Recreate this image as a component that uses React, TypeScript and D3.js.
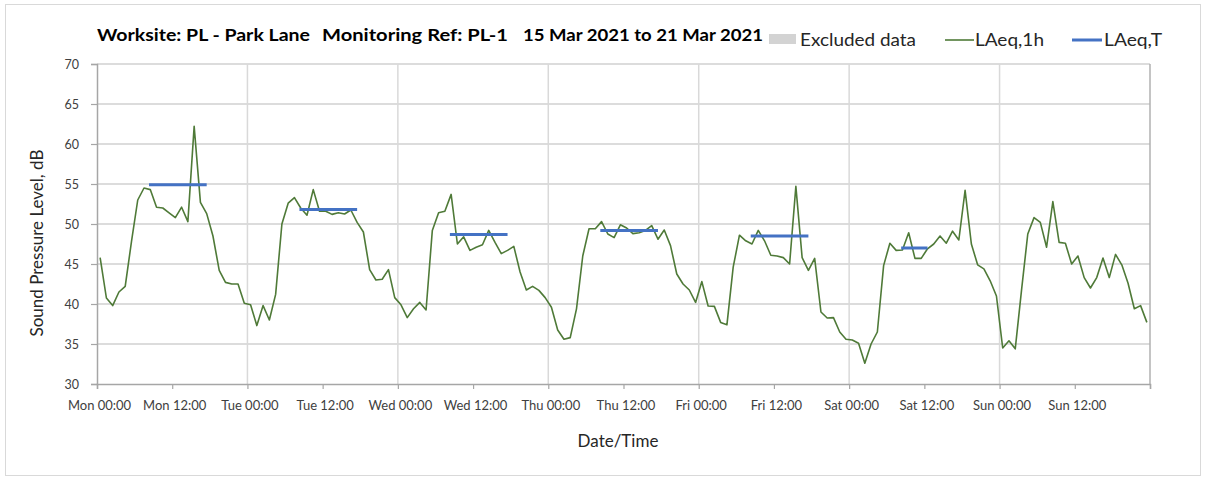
import React, { useEffect, useRef } from "react";
import * as d3 from "d3";

// hourly LAeq,1h values, Mon 00:00 .. Sun 23:00
const laeq1h: number[] = [
  // Mon
  45.8, 40.75, 39.8, 41.5, 42.2, 47.8, 53.0, 54.5, 54.3, 52.1, 52.0, 51.4,
  50.8, 52.1, 50.3, 62.2, 52.7, 51.3, 48.5, 44.2, 42.7, 42.5, 42.5, 40.1,
  // Tue
  39.9, 37.3, 39.8, 38.0, 41.2, 50.0, 52.6, 53.3, 52.0, 51.1, 54.3, 51.6,
  51.6, 51.2, 51.4, 51.25, 51.75, 50.2, 49.0, 44.3, 43.0, 43.1, 44.3, 40.8,
  // Wed
  39.9, 38.3, 39.4, 40.2, 39.25, 49.2, 51.4, 51.6, 53.7, 47.5, 48.4, 46.7,
  47.1, 47.4, 49.2, 47.7, 46.3, 46.7, 47.2, 44.0, 41.75, 42.2, 41.7, 40.8,
  // Thu
  39.6, 36.75, 35.6, 35.8, 39.4, 46.0, 49.4, 49.4, 50.3, 48.75, 48.3, 49.9,
  49.5, 48.8, 48.9, 49.2, 49.8, 48.1, 49.25, 47.3, 43.75, 42.5, 41.75, 40.2,
  // Fri
  42.8, 39.75, 39.7, 37.7, 37.4, 44.6, 48.6, 47.9, 47.5, 49.2, 47.9, 46.1,
  46.0, 45.8, 45.0, 54.7, 45.8, 44.2, 45.7, 39.0, 38.25, 38.3, 36.5, 35.6,
  // Sat
  35.5, 35.1, 32.6, 35.0, 36.5, 44.8, 47.6, 46.7, 46.75, 48.9, 45.7, 45.7,
  46.9, 47.5, 48.5, 47.6, 49.1, 48.0, 54.2, 47.5, 44.9, 44.4, 42.9, 41.0,
  // Sun
  34.5, 35.4, 34.4, 41.7, 48.75, 50.8, 50.2, 47.1, 52.8, 47.7, 47.6, 45.0,
  46.0, 43.3, 42.0, 43.3, 45.75, 43.3, 46.2, 44.9, 42.6, 39.4, 39.8, 37.7,
];

// LAeq,T periods (hour index of first / last sample)
const periodStart = [8, 32, 56, 80, 104, 128];
const periodEnd = [17, 41, 65, 89, 113, 132];
const periodValue = [54.9, 51.8, 48.7, 49.2, 48.5, 47.0];

const dayNames = ["Mon", "Tue", "Wed", "Thu", "Fri", "Sat", "Sun"];
const yTicks = [30, 35, 40, 45, 50, 55, 60, 65, 70];

const W = 1208;
const H = 477;
const FONT = "Lato, 'Open Sans', sans-serif";

const App = () => {
  const svgRef = useRef<SVGSVGElement | null>(null);

  useEffect(() => {
    const svg = d3.select(svgRef.current);
    svg.selectAll("*").remove();

    const left = 97;
    const right = 1150;
    const top = 64;
    const bottom = 384;

    const x = d3.scaleLinear().domain([0, 168]).range([left, right]);
    const y = d3.scaleLinear().domain([30, 70]).range([bottom, top]);

    // outer frame
    svg
      .append("rect")
      .attr("x", 5.5)
      .attr("y", 4.5)
      .attr("width", 1195)
      .attr("height", 471)
      .attr("fill", "#fff")
      .attr("stroke", "#d9d9d9");

    // horizontal grid
    svg
      .append("g")
      .selectAll("line")
      .data(yTicks.slice(1))
      .enter()
      .append("line")
      .attr("x1", left)
      .attr("x2", right)
      .attr("y1", (d) => y(d))
      .attr("y2", (d) => y(d))
      .attr("stroke", "#d0d0d0")
      .attr("stroke-width", 1.5);

    // vertical grid at midnight
    const dayHours = d3.range(1, 7).map((d) => d * 24);
    svg
      .append("g")
      .selectAll("line")
      .data(dayHours)
      .enter()
      .append("line")
      .attr("x1", (d) => x(d))
      .attr("x2", (d) => x(d))
      .attr("y1", top)
      .attr("y2", bottom)
      .attr("stroke", "#d9d9d9")
      .attr("stroke-width", 1.5);

    // plot area right edge
    svg
      .append("line")
      .attr("x1", right)
      .attr("x2", right)
      .attr("y1", top)
      .attr("y2", bottom)
      .attr("stroke", "#b0b0b0")
      .attr("stroke-width", 1.5);

    // y axis
    const yAxis = svg
      .append("g")
      .attr("transform", `translate(${left},0)`)
      .call(d3.axisLeft(y).tickValues(yTicks).tickSize(6).tickPadding(12));
    yAxis.select(".domain").attr("stroke", "#a6a6a6").attr("stroke-width", 1.5);
    yAxis.selectAll(".tick line").attr("stroke", "#a6a6a6").attr("stroke-width", 1.2);
    yAxis
      .selectAll(".tick text")
      .attr("fill", "#404040")
      .style("font-family", FONT)
      .style("font-size", "12.5px");

    // x axis
    const xTickVals = d3.range(0, 169, 12);
    const xAxis = svg
      .append("g")
      .attr("transform", `translate(0,${bottom})`)
      .call(
        d3
          .axisBottom(x)
          .tickValues(xTickVals)
          .tickSize(5)
          .tickPadding(12)
          .tickFormat((d) => {
            const h = +d;
            if (h >= 168) return "";
            return `${dayNames[Math.floor(h / 24)]} ${h % 24 === 0 ? "00" : "12"}:00`;
          })
      );
    xAxis.select(".domain").attr("stroke", "#a6a6a6").attr("stroke-width", 1.5);
    xAxis.selectAll(".tick line").attr("stroke", "#a6a6a6").attr("stroke-width", 1.2);
    xAxis
      .selectAll(".tick text")
      .attr("fill", "#404040")
      .attr("dx", 2)
      .style("font-family", FONT)
      .style("font-size", "13px");

    // LAeq,1h line
    const line = d3
      .line<number>()
      .x((_, i) => x(i + 0.5))
      .y((d) => y(d));
    svg
      .append("path")
      .datum(laeq1h)
      .attr("d", line)
      .attr("fill", "none")
      .attr("stroke", "#4f7a38")
      .attr("stroke-width", 1.6)
      .attr("stroke-linejoin", "round");

    // LAeq,T segments
    svg
      .append("g")
      .selectAll("line")
      .data(periodValue)
      .enter()
      .append("line")
      .attr("x1", (_, i) => x(periodStart[i] + 0.3))
      .attr("x2", (_, i) => x(periodEnd[i] + 0.5))
      .attr("y1", (d) => y(d))
      .attr("y2", (d) => y(d))
      .attr("stroke", "#4472c4")
      .attr("stroke-width", 3);

    // title
    const title = [
      { t: "Worksite: PL - Park Lane", x: 97, w: 213 },
      { t: "Monitoring Ref: PL-1", x: 322, w: 186 },
      { t: "15 Mar 2021 to 21 Mar 2021", x: 523, w: 240 },
    ];
    svg
      .append("g")
      .selectAll("text")
      .data(title)
      .enter()
      .append("text")
      .attr("x", (d) => d.x)
      .attr("y", 41)
      .attr("textLength", (d) => d.w)
      .attr("lengthAdjust", "spacingAndGlyphs")
      .style("font-family", FONT)
      .style("font-size", "17.5px")
      .style("font-weight", "700")
      .attr("fill", "#000")
      .text((d) => d.t);

    // legend
    const lg = svg.append("g");
    lg.append("rect")
      .attr("x", 769)
      .attr("y", 34)
      .attr("width", 27)
      .attr("height", 10)
      .attr("fill", "#d3d3d3");
    lg.append("line")
      .attr("x1", 945)
      .attr("x2", 974)
      .attr("y1", 40)
      .attr("y2", 40)
      .attr("stroke", "#4f7a38")
      .attr("stroke-width", 1.6);
    lg.append("line")
      .attr("x1", 1072)
      .attr("x2", 1102)
      .attr("y1", 40)
      .attr("y2", 40)
      .attr("stroke", "#4472c4")
      .attr("stroke-width", 3);
    const legendText = [
      { t: "Excluded data", x: 800, w: 116 },
      { t: "LAeq,1h", x: 975, w: 69 },
      { t: "LAeq,T", x: 1104, w: 58 },
    ];
    lg.selectAll("text")
      .data(legendText)
      .enter()
      .append("text")
      .attr("x", (d) => d.x)
      .attr("y", 46)
      .attr("textLength", (d) => d.w)
      .attr("lengthAdjust", "spacingAndGlyphs")
      .style("font-family", FONT)
      .style("font-size", "18px")
      .attr("fill", "#262626")
      .text((d) => d.t);

    // axis titles
    svg
      .append("text")
      .attr("x", 618)
      .attr("y", 447)
      .attr("text-anchor", "middle")
      .style("font-family", FONT)
      .style("font-size", "17px")
      .attr("fill", "#262626")
      .text("Date/Time");

    svg
      .append("text")
      .attr("transform", "translate(43,243) rotate(-90)")
      .attr("text-anchor", "middle")
      .style("font-family", FONT)
      .style("font-size", "17px")
      .attr("fill", "#262626")
      .text("Sound Pressure Level, dB");
  }, []);

  return (
    <svg
      ref={svgRef}
      width={W}
      height={H}
      style={{ position: "absolute", left: 0, top: 0, background: "#fff" }}
    ></svg>
  );
};

export default App;
